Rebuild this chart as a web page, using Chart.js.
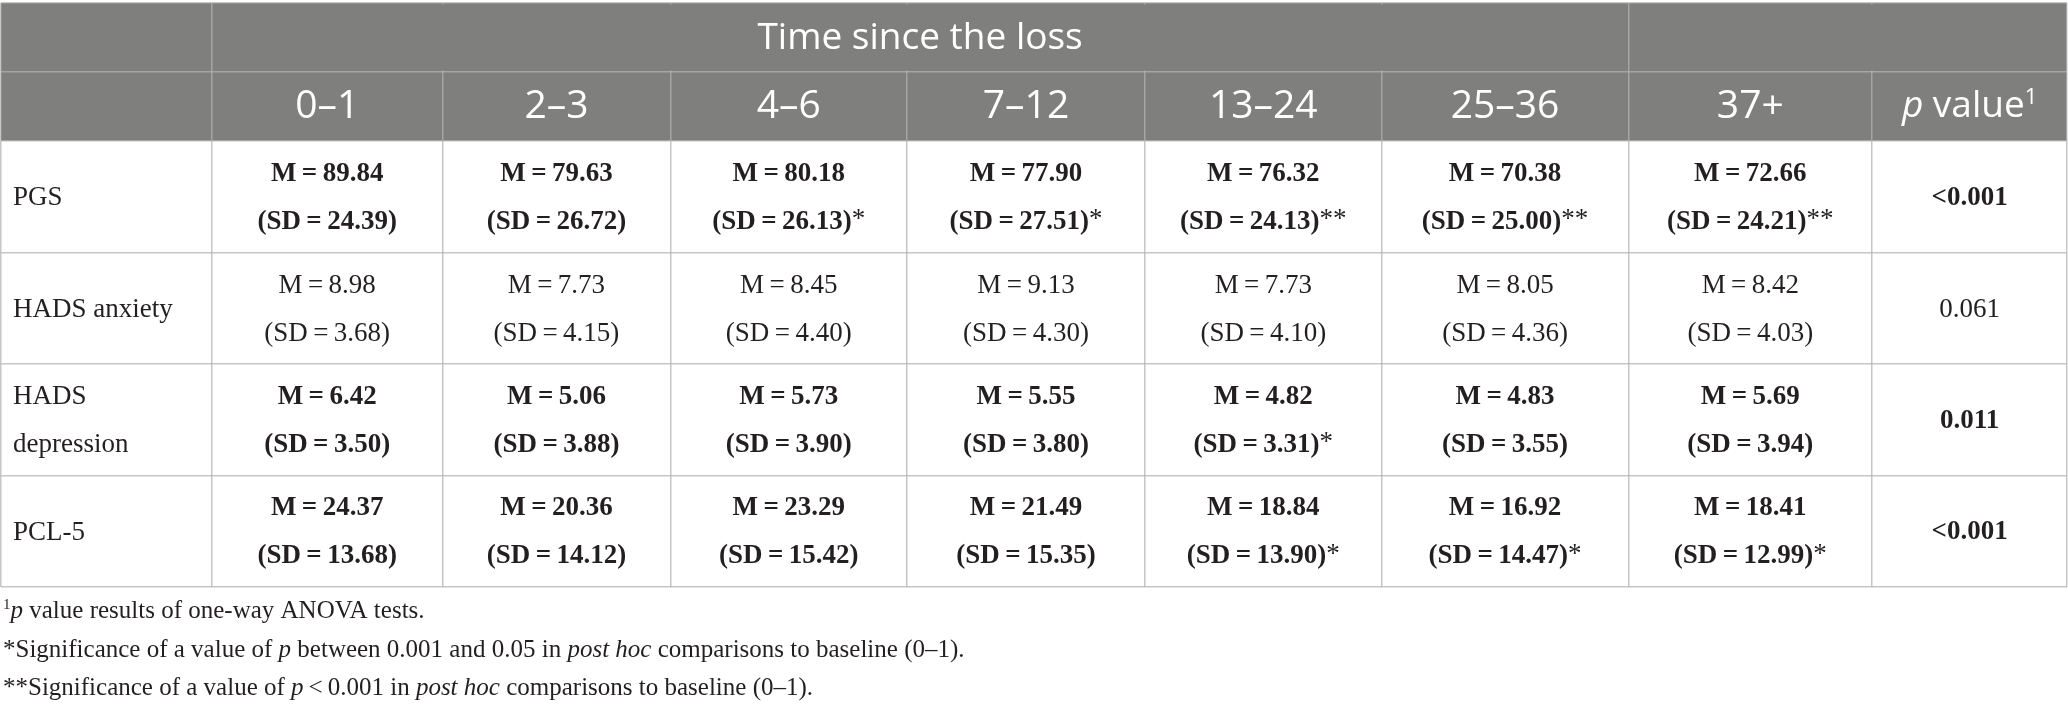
<!DOCTYPE html>
<html>
<head>
<meta charset="utf-8">
<script src="https://cdn.jsdelivr.net/npm/chart.js@4.4.1/dist/chart.umd.min.js"></script>
<style>
html, body { margin: 0; padding: 0; background: #fff; }
</style>
</head>
<body>
<canvas id="myCanvas" width="2068" height="716"></canvas>
<script>
var timeBins = ['0–1', '2–3', '4–6', '7–12', '13–24', '25–36', '37+']
var measures = ['PGS', 'HADS anxiety', 'HADS depression', 'PCL-5']

var pgsMean = [89.84, 79.63, 80.18, 77.90, 76.32, 70.38, 72.66]
var pgsSD   = [24.39, 26.72, 26.13, 27.51, 24.13, 25.00, 24.21]
var pgsSig  = ['', '', '*', '*', '**', '**', '**']

var anxMean = [8.98, 7.73, 8.45, 9.13, 7.73, 8.05, 8.42]
var anxSD   = [3.68, 4.15, 4.40, 4.30, 4.10, 4.36, 4.03]
var anxSig  = ['', '', '', '', '', '', '']

var depMean = [6.42, 5.06, 5.73, 5.55, 4.82, 4.83, 5.69]
var depSD   = [3.50, 3.88, 3.90, 3.80, 3.31, 3.55, 3.94]
var depSig  = ['', '', '', '', '*', '', '']

var pclMean = [24.37, 20.36, 23.29, 21.49, 18.84, 16.92, 18.41]
var pclSD   = [13.68, 14.12, 15.42, 15.35, 13.90, 14.47, 12.99]
var pclSig  = ['', '', '', '', '*', '*', '*']

var pValues      = ['<0.001', '0.061', '0.011', '<0.001']
var pSignificant = [true, false, true, true]

var spanTitle = 'Time since the loss'

// layout: column widths and row heights in px
var colWidths  = [211, 231, 228, 237, 238, 237, 247, 244, 195]
var rowHeights = [69, 69, 112, 111, 112, 111]
// top header row merges: [first col, col, ...] spans by column index
var headSpans  = [[0, 1], [1, 7], [7, 9]]

var means = [pgsMean, anxMean, depMean, pclMean]
var sds   = [pgsSD, anxSD, depSD, pclSD]
var sigs  = [pgsSig, anxSig, depSig, pclSig]

function edges(sizes) {
    var out = [0]
    sizes.forEach(function (s) { out.push(out[out.length - 1] + s) })
    return out
}
var colEdges = edges(colWidths)
var rowEdges = edges(rowHeights)
function colMid(i) { return (colEdges[i] + colEdges[i + 1]) / 2 }
function rowMid(i) { return (rowEdges[i] + rowEdges[i + 1]) / 2 }

var SERIF = '"Liberation Serif", "Times New Roman", serif'
var SANS = '"Open Sans", "Noto Sans", sans-serif'
var INK = '#231f20'
var HEAD_BG = '#7f807e'

// draw a run of differently styled pieces, centred or left aligned
function drawRun(ctx, parts, x, y, align) {
    var total = 0
    parts.forEach(function (p) { ctx.font = p.font; p.w = ctx.measureText(p.t).width; total += p.w })
    var cx = align === 'left' ? x : x - total / 2
    ctx.textAlign = 'left'
    ctx.textBaseline = 'middle'
    parts.forEach(function (p) {
        ctx.font = p.font
        ctx.fillStyle = p.color || INK
        ctx.fillText(p.t, cx, y + (p.dy || 0))
        cx += p.w
    })
}

var datasets = measures.map(function (m, r) {
    return {
        label: m,
        data: timeBins.map(function (t, i) { return { x: colMid(i + 1), y: rowMid(r + 2) } }),
        pointRadius: 0,
        showLine: false
    }
})

var tablePlugin = {
    id: 'tableText',
    beforeDraw: function (chart) {
        var ctx = chart.ctx, xs = chart.scales.x, ys = chart.scales.y
        ctx.save()
        ctx.fillStyle = HEAD_BG
        ctx.fillRect(xs.left, ys.getPixelForValue(rowEdges[0]), xs.width,
            ys.getPixelForValue(rowEdges[2]) - ys.getPixelForValue(rowEdges[0]))
        ctx.restore()
    },
    beforeDatasetsDraw: function (chart) {
        // merged cells of the top header row: hide inner column lines
        var ctx = chart.ctx, xs = chart.scales.x, ys = chart.scales.y
        ctx.save()
        ctx.fillStyle = HEAD_BG
        var y0 = ys.getPixelForValue(rowEdges[0]) + 1.5
        var y1 = ys.getPixelForValue(rowEdges[1]) - 1.5
        headSpans.forEach(function (sp) {
            var x0 = xs.getPixelForValue(colEdges[sp[0]]) + 1.5
            var x1 = xs.getPixelForValue(colEdges[sp[1]]) - 1.5
            ctx.fillRect(x0, y0, x1 - x0, y1 - y0)
        })
        ctx.restore()
    },
    afterDatasetsDraw: function (chart) {
        var ctx = chart.ctx, xs = chart.scales.x, ys = chart.scales.y
        ctx.save()
        var hfont = '37px ' + SANS
        var bfont = '39px ' + SANS
        // header row 1
        var sp = headSpans[1]
        drawRun(ctx, [{ t: spanTitle, font: hfont, color: '#fff' }],
            xs.getPixelForValue((colEdges[sp[0]] + colEdges[sp[1]]) / 2), ys.getPixelForValue(rowMid(0)) + 1)
        // header row 2
        timeBins.forEach(function (t, i) {
            drawRun(ctx, [{ t: t, font: bfont, color: '#fff' }], xs.getPixelForValue(colMid(i + 1)), ys.getPixelForValue(rowMid(1)))
        })
        drawRun(ctx, [
            { t: 'p', font: 'italic ' + hfont, color: '#fff' },
            { t: ' value', font: hfont, color: '#fff' },
            { t: '1', font: '22px ' + SANS, color: '#fff', dy: -9 }
        ], xs.getPixelForValue(colMid(8)), ys.getPixelForValue(rowMid(1)))

        // body
        chart.data.datasets.forEach(function (ds, r) {
            var meta = chart.getDatasetMeta(r)
            var bold = pSignificant[r] ? 'bold ' : ''
            var font = bold + '27px ' + SERIF
            var plain = '27px ' + SERIF
            var cy = ys.getPixelForValue(rowMid(r + 2))

            // row label, wrapped if too wide
            ctx.font = plain
            var lx = xs.getPixelForValue(colEdges[0]) + 12
            if (ctx.measureText(measures[r]).width > colWidths[0] - 24) {
                var words = measures[r].split(' ')
                drawRun(ctx, [{ t: words[0], font: plain }], lx, cy - 23, 'left')
                drawRun(ctx, [{ t: words.slice(1).join(' '), font: plain }], lx, cy + 25, 'left')
            } else {
                drawRun(ctx, [{ t: measures[r], font: plain }], lx, cy + 1, 'left')
            }

            meta.data.forEach(function (pt, i) {
                drawRun(ctx, [{ t: 'M\u2009=\u2009' + means[r][i].toFixed(2), font: font }], pt.x, pt.y - 23)
                var parts = [{ t: '(SD\u2009=\u2009' + sds[r][i].toFixed(2) + ')', font: font }]
                if (sigs[r][i]) parts.push({ t: sigs[r][i], font: plain, dy: -2 })
                drawRun(ctx, parts, pt.x, pt.y + 25)
            })

            drawRun(ctx, [{ t: pValues[r], font: font }], xs.getPixelForValue(colMid(8)), cy + 1)
        })

        ctx.restore()
    },
    afterDraw: function (chart) {
        var ctx = chart.ctx, xs = chart.scales.x, ys = chart.scales.y
        var f = '25px ' + SERIF, fi = 'italic 25px ' + SERIF
        var x0 = xs.getPixelForValue(colEdges[0]) + 2
        var yb = ys.getPixelForValue(rowEdges[rowEdges.length - 1])
        ctx.save()
        drawRun(ctx, [
            { t: '1', font: '15px ' + SERIF, dy: -6 },
            { t: 'p', font: fi },
            { t: ' value results of one-way ANOVA tests.', font: f }
        ], x0, yb + 24, 'left')
        drawRun(ctx, [
            { t: '*Significance of a value of ', font: f },
            { t: 'p', font: fi },
            { t: ' between 0.001 and 0.05 in ', font: f },
            { t: 'post hoc', font: fi },
            { t: ' comparisons to baseline (0–1).', font: f }
        ], x0, yb + 63, 'left')
        drawRun(ctx, [
            { t: '**Significance of a value of ', font: f },
            { t: 'p', font: fi },
            { t: '\u2009<\u20090.001 in ', font: f },
            { t: 'post hoc', font: fi },
            { t: ' comparisons to baseline (0–1).', font: f }
        ], x0, yb + 101, 'left')
        ctx.restore()
    }
}

var gridColor = 'rgba(178,178,178,0.74)'

var ctx = document.getElementById('myCanvas')
var myChart = new Chart(ctx, {
    type: 'scatter',
    data: { datasets: datasets },
    options: {
        responsive: false,
        animation: false,
        devicePixelRatio: 1,
        events: [],
        layout: { padding: { left: 1, right: 1, top: 3, bottom: 129 } },
        plugins: { legend: { display: false }, tooltip: { enabled: false } },
        scales: {
            x: {
                type: 'linear',
                min: 0,
                max: colEdges[colEdges.length - 1],
                afterBuildTicks: function (s) { s.ticks = colEdges.map(function (v) { return { value: v } }) },
                afterFit: function (s) { s.height = 0 },
                ticks: { display: false },
                border: { display: false },
                grid: { color: gridColor, lineWidth: 1.5, drawTicks: false }
            },
            y: {
                type: 'linear',
                reverse: true,
                min: 0,
                max: rowEdges[rowEdges.length - 1],
                afterBuildTicks: function (s) { s.ticks = rowEdges.map(function (v) { return { value: v } }) },
                afterFit: function (s) { s.width = 0 },
                ticks: { display: false },
                border: { display: false },
                grid: { color: gridColor, lineWidth: 1.5, drawTicks: false }
            }
        }
    },
    plugins: [tablePlugin]
})
</script>
</body>
</html>
